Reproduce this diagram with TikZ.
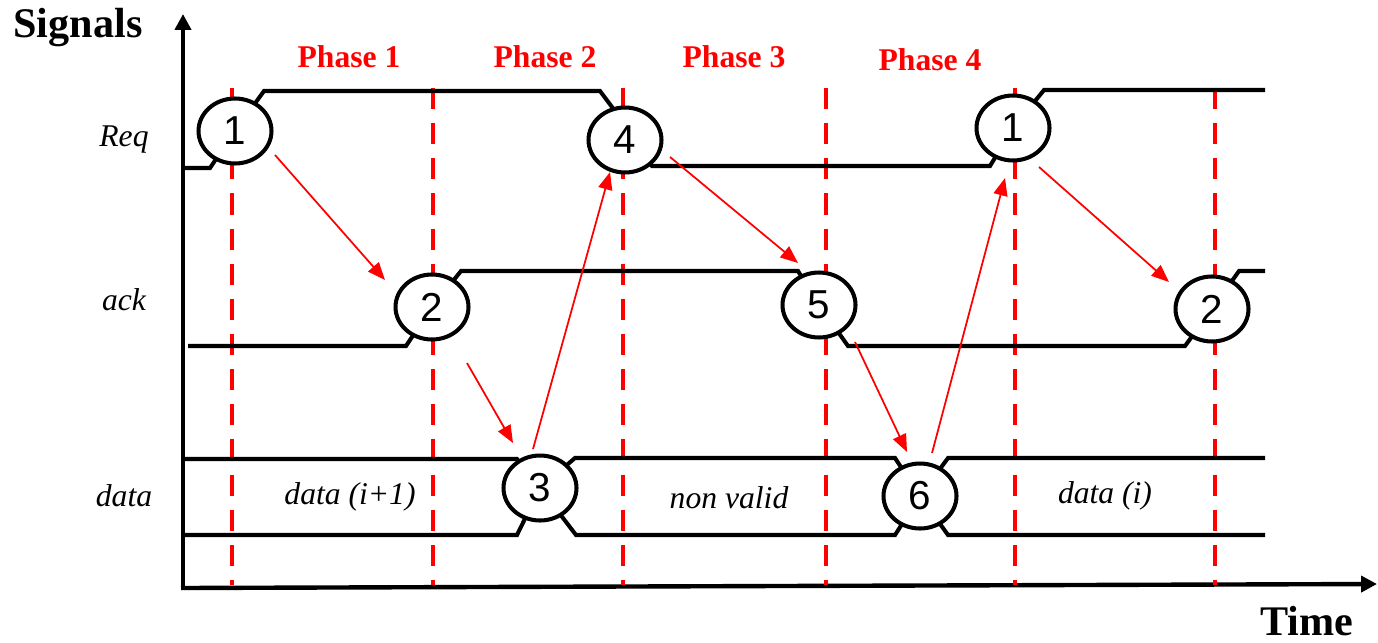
\documentclass[tikz,border=0pt]{standalone}
\usepackage{fontspec}
\setmainfont{Liberation Serif}
\newfontfamily\digitfont{Liberation Sans}
\usetikzlibrary{arrows.meta,shapes.geometric}

\begin{document}
\begin{tikzpicture}[x=0.02cm,y=-0.02cm,
	sig/.style={line width=2.3pt},
	phaseline/.style={red,line width=2.3pt,dash pattern=on 12pt off 8pt},
	phase/.style={text=red,font=\bfseries\fontsize{18}{18}\selectfont},
	rowlabel/.style={font=\itshape\fontsize{18}{18}\selectfont},
	axislabel/.style={font=\bfseries\fontsize{24}{24}\selectfont},
	event/.style={ellipse,draw,fill=white,line width=2.3pt,minimum width=1.46cm,
		minimum height=1.3cm,inner sep=0pt,font=\digitfont\fontsize{23}{23}\selectfont},
	cause/.style={red,line width=1pt,-{Triangle[length=10pt,width=8pt]}}]
\useasboundingbox (0,0) rectangle (1378,642);

%axes
\draw [line width=2.5pt,-{Triangle[length=9pt,width=9pt]}] (183,590) -- (183,14);
\draw [line width=2.5pt,-{Triangle[length=9pt,width=9pt]}] (181,588) -- (1377,584);
\node [axislabel] (signals) at (78,28) {Signals};
\node [axislabel] (time) at (1307,621) {Time};

%phase borders
\foreach \x in {232,433,623,826,1015,1215}{
	\draw [phaseline] (\x,88) -- (\x,585);
}
\foreach \x/\y/\n in {349/57/1,545/57/2,734/57/3,930/60/4}{
	\node [phase] (phase\n) at (\x,\y) {Phase \n};
}

%waveforms
\node [rowlabel] (req) at (124,140) {Req};
\node [rowlabel] (ack) at (124,300) {ack};
\node [rowlabel] (data) at (124,496) {data};
\draw [sig] (183,168) -- (210,168) -- (235,131) -- (264,91) -- (600,91) -- (618,115)
	-- (625,140) -- (652,166) -- (990,166) -- (1013,128) -- (1044,90) -- (1265,90);
\draw [sig] (188,346) -- (406,346) -- (432,307) -- (461,271) -- (798,271) -- (819,305)
	-- (848,346) -- (1185,346) -- (1212,309) -- (1239,271) -- (1265,271);
\draw [sig] (185,459) -- (517,459) -- (540,488) -- (575,458) -- (895,458) -- (920,496)
	-- (948,458) -- (1265,458);
\draw [sig] (185,535) -- (517,535) -- (540,488) -- (576,535) -- (895,535) -- (920,496)
	-- (948,535) -- (1265,535);
\node [rowlabel] (olddata) at (350,497) {data (i+1)};
\node [rowlabel] (nonvalid) at (729,498) {non valid};
\node [rowlabel] (newdata) at (1105,496) {data (i)};

%handshake events
\node [event] (e1) at (235,131) {1};
\node [event] (e2) at (432,307) {2};
\node [event] (e3) at (540,488) {3};
\node [event] (e4) at (625,140) {4};
\node [event] (e5) at (819,305) {5};
\node [event] (e6) at (920,496) {6};
\node [event] (e7) at (1013,128) {1};
\node [event] (e8) at (1212,309) {2};

\draw [cause] ([shift={(40,24)}]e1.center) -- ([shift={(-47,-27)}]e2.center);
\draw [cause] ([shift={(35,56)}]e2.center) -- ([shift={(-27,-45)}]e3.center);
\draw [cause] ([shift={(-7,-39)}]e3.center) -- ([shift={(-15,32)}]e4.center);
\draw [cause] ([shift={(45,17)}]e4.center) -- ([shift={(-21,-42)}]e5.center);
\draw [cause] ([shift={(36,37)}]e5.center) -- ([shift={(-13,-44)}]e6.center);
\draw [cause] ([shift={(12,-43)}]e6.center) -- ([shift={(-8,50)}]e7.center);
\draw [cause] ([shift={(26,39)}]e7.center) -- ([shift={(-43,-27)}]e8.center);
\end{tikzpicture}
\end{document}
